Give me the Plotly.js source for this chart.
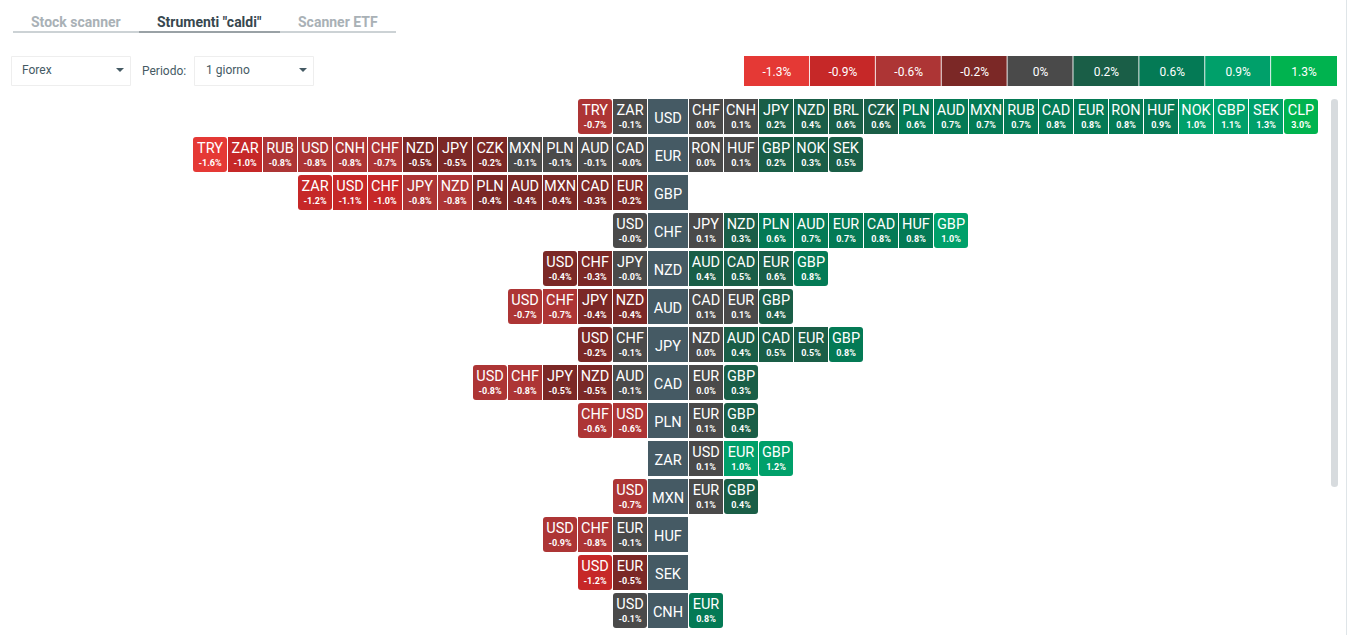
<!DOCTYPE html>
<html>
<head>
<meta charset="utf-8">
<script src="https://cdn.plot.ly/plotly-3.0.1.min.js"></script>
<style>html,body{margin:0;padding:0;background:#fff;overflow:hidden}#chart{width:1347px;height:635px}</style>
</head>
<body>
<div id="chart"></div>
<script>
// ---- data ----
const baseCurrencies = ["USD","EUR","GBP","CHF","NZD","AUD","JPY","CAD","PLN","ZAR","MXN","HUF","SEK","CNH"];
const leftNames = [
  ["TRY","ZAR"],
  ["TRY","ZAR","RUB","USD","CNH","CHF","NZD","JPY","CZK","MXN","PLN","AUD","CAD"],
  ["ZAR","USD","CHF","JPY","NZD","PLN","AUD","MXN","CAD","EUR"],
  ["USD"],
  ["USD","CHF","JPY"],
  ["USD","CHF","JPY","NZD"],
  ["USD","CHF"],
  ["USD","CHF","JPY","NZD","AUD"],
  ["CHF","USD"],
  [],
  ["USD"],
  ["USD","CHF","EUR"],
  ["USD","EUR"],
  ["USD"]
];
const leftValues = [
  [-0.7,-0.1],
  [-1.6,-1.0,-0.8,-0.8,-0.8,-0.7,-0.5,-0.5,-0.2,-0.1,-0.1,-0.1,-0.0],
  [-1.2,-1.1,-1.0,-0.8,-0.8,-0.4,-0.4,-0.4,-0.3,-0.2],
  [-0.0],
  [-0.4,-0.3,-0.0],
  [-0.7,-0.7,-0.4,-0.4],
  [-0.2,-0.1],
  [-0.8,-0.8,-0.5,-0.5,-0.1],
  [-0.6,-0.6],
  [],
  [-0.7],
  [-0.9,-0.8,-0.1],
  [-1.2,-0.5],
  [-0.1]
];
const rightNames = [
  ["CHF","CNH","JPY","NZD","BRL","CZK","PLN","AUD","MXN","RUB","CAD","EUR","RON","HUF","NOK","GBP","SEK","CLP"],
  ["RON","HUF","GBP","NOK","SEK"],
  [],
  ["JPY","NZD","PLN","AUD","EUR","CAD","HUF","GBP"],
  ["AUD","CAD","EUR","GBP"],
  ["CAD","EUR","GBP"],
  ["NZD","AUD","CAD","EUR","GBP"],
  ["EUR","GBP"],
  ["EUR","GBP"],
  ["USD","EUR","GBP"],
  ["EUR","GBP"],
  [],
  [],
  ["EUR"]
];
const rightValues = [
  [0.0,0.1,0.2,0.4,0.58,0.58,0.6,0.7,0.7,0.7,0.8,0.8,0.8,0.9,1.0,1.1,1.3,3.0],
  [0.0,0.1,0.2,0.3,0.5],
  [],
  [0.1,0.3,0.6,0.7,0.7,0.8,0.8,1.0],
  [0.4,0.5,0.58,0.8],
  [0.1,0.1,0.4],
  [0.0,0.4,0.5,0.5,0.8],
  [0.0,0.3],
  [0.1,0.4],
  [0.1,1.0,1.2],
  [0.1,0.4],
  [],
  [],
  [0.8]
];
const legendLabels = ["-1.3%","-0.9%","-0.6%","-0.2%","0%","0.2%","0.6%","0.9%","1.3%"];
const legendColors = ["#e53935","#c62828","#ad3535","#7b2826","#4a4a4a","#1a5e47","#047a55","#00a06a","#00b34f"];
const binLimits = [-1.35,-0.95,-0.55,-0.15,0.15,0.6,0.95,1.35];

// ---- geometry ----
const W = 1347, H = 635;
const CENTER_L = 648, PITCH = 35, TILE = 34, CENTER_W = 40;
const TOP = 99, ROW = 38, TILE_H = 35;
const px = x => x / W, py = y => 1 - y / H;
const colorOf = v => legendColors[binLimits.filter(t => v >= t).length];
const fmt = v => ((v < 0 || Object.is(v, -0)) ? "-" : "") + Math.abs(v).toFixed(1) + "%";
const yMid = r => r + (TILE_H / 2) / ROW;

const inner = {x:[],y:[],base:[],color:[]}, outerL = {x:[],y:[],base:[],color:[]}, outerR = {x:[],y:[],base:[],color:[]};
const nameT = {x:[],y:[],text:[]}, valT = {x:[],y:[],text:[]}, centerT = {x:[],y:[],text:[]};
const center = {x:[],y:[],base:[]};
const u = p => p / PITCH;
const NAME_DY = 12, VAL_DY = 26.5, CENTER_DY = 20.5;

baseCurrencies.forEach((cur, r) => {
  center.x.push(u(CENTER_W)); center.y.push(yMid(r)); center.base.push(0);
  centerT.x.push(u(CENTER_W / 2)); centerT.y.push(r + CENTER_DY / ROW); centerT.text.push(cur);
  const L = leftNames[r], R = rightNames[r];
  L.forEach((n, i) => {
    const k = L.length - 1 - i;
    const right = -u(1) - k;           // right edge of tile
    const v = leftValues[r][i];
    if (i === 0) { outerL.x.push(-u(TILE)); outerL.y.push(yMid(r)); outerL.base.push(right); outerL.color.push(colorOf(v)); }
    else { inner.x.push(u(TILE)); inner.y.push(yMid(r)); inner.base.push(right - u(TILE)); inner.color.push(colorOf(v)); }
    const cx = right - u(TILE / 2);
    nameT.x.push(cx); nameT.y.push(r + NAME_DY / ROW); nameT.text.push(n);
    valT.x.push(cx); valT.y.push(r + VAL_DY / ROW); valT.text.push("<b>" + fmt(v) + "</b>");
  });
  R.forEach((n, i) => {
    const left = u(CENTER_W + 1) + i;
    const v = rightValues[r][i];
    const t = (i === R.length - 1) ? outerR : inner;
    t.x.push(u(TILE)); t.y.push(yMid(r)); t.base.push(left); t.color.push(colorOf(v));
    const cx = left + u(TILE / 2);
    nameT.x.push(cx); nameT.y.push(r + NAME_DY / ROW); nameT.text.push(n);
    valT.x.push(cx); valT.y.push(r + VAL_DY / ROW); valT.text.push("<b>" + fmt(v) + "</b>");
  });
});

const rowW = TILE_H / ROW;
const barBase = {type:"bar", orientation:"h", hoverinfo:"skip", showlegend:false};
const mk = (d, radius) => Object.assign({}, barBase, {x:d.x, y:d.y, base:d.base, width:d.x.map(() => rowW),
  marker:{color:d.color, cornerradius:radius, line:{width:0}}});
const txt = (d, size) => ({type:"scatter", mode:"text", x:d.x, y:d.y, text:d.text, hoverinfo:"skip", showlegend:false,
  textposition:"middle center", cliponaxis:false, textfont:{family:"Roboto, sans-serif", size:size, color:"#ffffff"}});

const legendIdx = legendLabels.map((_, i) => i);
const traces = [
  mk(inner, 0), mk(outerL, 3), mk(outerR, 3),
  Object.assign({}, barBase, {x:center.x, y:center.y, base:center.base, width:center.x.map(() => rowW), marker:{color:"#455a64", line:{width:0}}}),
  txt(nameT, 14.5), txt(valT, 9), txt(centerT, 14.5),
  Object.assign({}, barBase, {xaxis:"x2", yaxis:"y2", x:legendIdx.map(i => i === legendIdx.length - 1 ? 1 : 65 / 65.9), y:legendIdx.map(() => 0.5), base:legendIdx, width:legendIdx.map(() => 1), marker:{color:legendColors, line:{width:0}}}),
  Object.assign(txt({x:legendIdx.map(i => i + 0.5), y:legendIdx.map(() => 0.45), text:legendLabels}, 12), {xaxis:"x2", yaxis:"y2"})
];

const rect = (x0,y0,x1,y1,fill,line) => ({type:"rect", xref:"paper", yref:"paper", x0:px(x0), x1:px(x1), y0:py(y1), y1:py(y0), fillcolor:fill, line: line ? {color:line, width:1} : {width:0}, layer:"below"});
const tri = (cx, cy) => ({type:"path", xref:"paper", yref:"paper", path:`M ${px(cx-4)} ${py(cy-2)} L ${px(cx+4)} ${py(cy-2)} L ${px(cx)} ${py(cy+2)} Z`, fillcolor:"#455a64", line:{width:0}});
const note = (text, x, y, size, color, anchor) => ({text, x:px(x), y:py(y), xref:"paper", yref:"paper", xanchor:anchor||"left", yanchor:"middle", showarrow:false, font:{family:"Roboto, sans-serif", size, color}});

const layout = {
  width:W, height:H, margin:{l:0,r:0,t:0,b:0}, paper_bgcolor:"#fff", plot_bgcolor:"rgba(0,0,0,0)",
  barmode:"overlay", showlegend:false, hovermode:false,
  xaxis:{range:[-CENTER_L / PITCH, (W - CENTER_L) / PITCH], visible:false, fixedrange:true},
  yaxis:{range:[(H - TOP) / ROW, -TOP / ROW], visible:false, fixedrange:true},
  xaxis2:{domain:[px(744), px(1337)], range:[0, 9], visible:false, fixedrange:true, anchor:"y2"},
  yaxis2:{domain:[py(86), py(56)], range:[0, 1], visible:false, fixedrange:true, anchor:"x2"},
  shapes:[
    rect(13,31.5,139,32.5,"#9aa5ab"), rect(139,31.5,280,32.5,"#37474f"), rect(280,31.5,396,32.5,"#9aa5ab"),
    rect(11.5,56.5,130.5,85.5,"#fff","#eeeeee"), rect(194.5,56.5,313.5,85.5,"#fff","#eeeeee"),
    tri(120,70), tri(303,70),
    {type:"path", xref:"paper", yref:"paper", path:`M ${px(1331)} ${py(102)} Q ${px(1331)} ${py(99)} ${px(1334.5)} ${py(99)} Q ${px(1338)} ${py(99)} ${px(1338)} ${py(102)} L ${px(1338)} ${py(484)} Q ${px(1338)} ${py(487)} ${px(1334.5)} ${py(487)} Q ${px(1331)} ${py(487)} ${px(1331)} ${py(484)} Z`, fillcolor:"#d7dbde", line:{width:0}},
    rect(1346,0,1347,635,"#dfe5e8")
  ],
  annotations:[
    note("<b>Stock scanner</b>", 28.5, 21.5, 14, "#a9b1b6"),
    note('<b>Strumenti "caldi"</b>', 154.5, 21.5, 14, "#37474f"),
    note("<b>Scanner ETF</b>", 295.5, 21.5, 14, "#a9b1b6"),
    note("Forex", 20, 70, 12, "#455a64"),
    note("Periodo:", 140, 71, 12, "#455a64"),
    note("1 giorno", 204, 70, 12, "#455a64")
  ]
};
Plotly.newPlot("chart", traces, layout, {displayModeBar:false, staticPlot:true});
</script>
</body>
</html>
